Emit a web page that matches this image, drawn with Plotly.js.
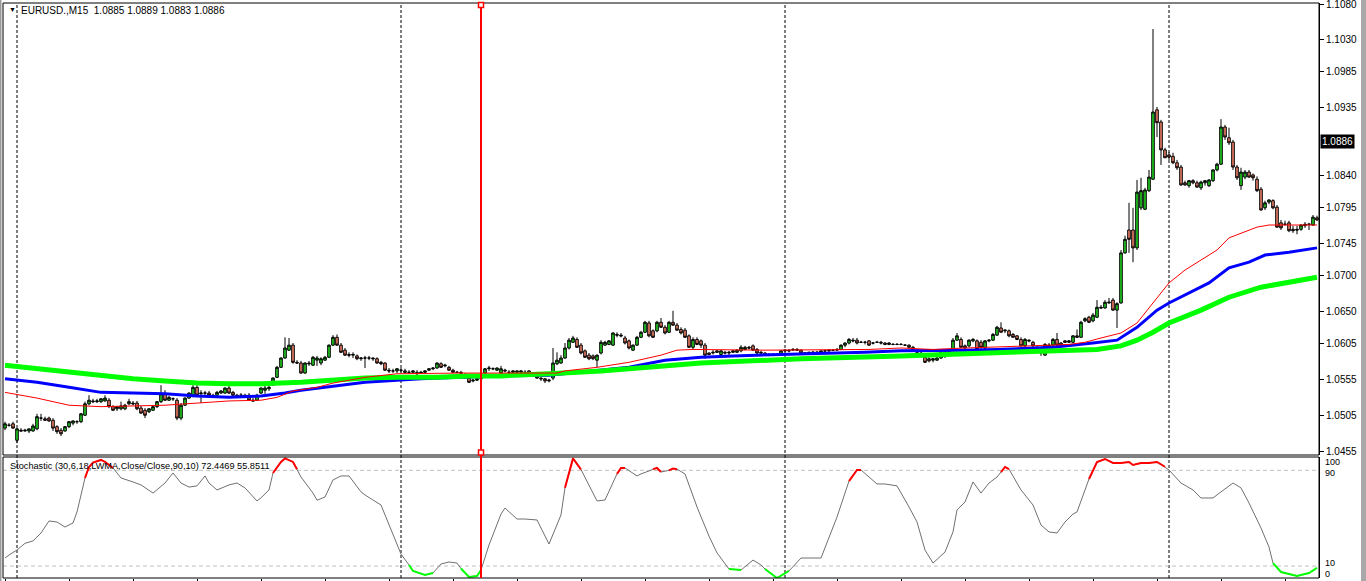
<!DOCTYPE html>
<html><head><meta charset="utf-8">
<script src="https://cdn.plot.ly/plotly-3.0.1.min.js"></script>
<style>html,body{margin:0;padding:0;background:#fff;overflow:hidden}#chart{width:1366px;height:581px}</style>
</head><body><div id="chart"></div>
<script>
// ---------- DATA (EURUSD., M15) ----------
const open = [
1.0487,1.0491,1.0493,1.0470,1.0484,1.0483,1.0483,1.0483,1.0486,1.0501,
1.0500,1.0501,1.0498,1.0489,1.0484,1.0483,1.0489,1.0494,1.0496,1.0496,
1.0505,1.0521,1.0525,1.0524,1.0524,1.0525,1.0526,1.0517,1.0514,1.0514,
1.0514,1.0521,1.0522,1.0522,1.0515,1.0512,1.0510,1.0512,1.0517,1.0524,
1.0535,1.0526,1.0528,1.0526,1.0501,1.0519,1.0529,1.0532,1.0544,1.0535,
1.0536,1.0536,1.0533,1.0533,1.0536,1.0536,1.0543,1.0537,1.0533,1.0533,
1.0533,1.0533,1.0526,1.0526,1.0536,1.0540,1.0542,1.0547,1.0558,1.0572,
1.0585,1.0596,1.0603,1.0579,1.0578,1.0564,1.0578,1.0575,1.0582,1.0578,
1.0582,1.0586,1.0603,1.0614,1.0603,1.0596,1.0590,1.0589,1.0588,1.0584,
1.0585,1.0585,1.0585,1.0584,1.0579,1.0578,1.0568,1.0567,1.0567,1.0568,
1.0567,1.0565,1.0565,1.0565,1.0564,1.0565,1.0568,1.0570,1.0571,1.0577,
1.0574,1.0572,1.0568,1.0565,1.0565,1.0561,1.0557,1.0553,1.0554,1.0556,
1.0564,1.0570,1.0570,1.0568,1.0564,1.0568,1.0565,1.0565,1.0567,1.0565,
1.0565,1.0567,1.0564,1.0560,1.0557,1.0556,1.0553,1.0557,1.0577,1.0578,
1.0585,1.0599,1.0607,1.0611,1.0603,1.0595,1.0589,1.0588,1.0582,1.0592,
1.0603,1.0604,1.0603,1.0618,1.0617,1.0613,1.0609,1.0596,1.0603,1.0614,
1.0621,1.0634,1.0623,1.0623,1.0635,1.0628,1.0621,1.0635,1.0631,1.0625,
1.0624,1.0616,1.0600,1.0611,1.0609,1.0603,1.0592,1.0592,1.0595,1.0590,
1.0593,1.0592,1.0593,1.0593,1.0595,1.0597,1.0600,1.0602,1.0597,1.0593,
1.0592,1.0590,1.0590,1.0589,1.0590,1.0595,1.0596,1.0596,1.0597,1.0596,
1.0592,1.0592,1.0593,1.0593,1.0593,1.0595,1.0595,1.0596,1.0596,1.0597,
1.0603,1.0606,1.0610,1.0610,1.0607,1.0607,1.0609,1.0606,1.0607,1.0607,
1.0606,1.0604,1.0604,1.0604,1.0604,1.0603,1.0603,1.0600,1.0596,1.0592,
1.0586,1.0584,1.0582,1.0582,1.0585,1.0593,1.0593,1.0596,1.0610,1.0611,
1.0602,1.0602,1.0609,1.0609,1.0607,1.0599,1.0609,1.0610,1.0617,1.0627,
1.0623,1.0623,1.0618,1.0616,1.0611,1.0602,1.0610,1.0607,1.0600,1.0596,
1.0589,1.0603,1.0603,1.0611,1.0606,1.0609,1.0607,1.0607,1.0616,1.0614,
1.0637,1.0642,1.0637,1.0642,1.0656,1.0655,1.0662,1.0666,1.0652,1.0662,
1.0732,1.0764,1.0764,1.0739,1.0795,1.0793,1.0819,1.0835,1.0932,1.0915,
1.0876,1.0869,1.0867,1.0858,1.0852,1.0830,1.0826,1.0833,1.0830,1.0823,
1.0830,1.0826,1.0833,1.0848,1.0856,1.0908,1.0893,1.0887,1.0852,1.0826,
1.0838,1.0845,1.0841,1.0835,1.0821,1.0795,1.0803,1.0805,1.0796,1.0774,
1.0772,1.0774,1.0765,1.0765,1.0765,1.0770,1.0772,1.0771,1.0781];
const high = [
1.0496,1.0494,1.0496,1.0487,1.0487,1.0486,1.0486,1.0493,1.0507,1.0507,
1.0503,1.0503,1.0501,1.0491,1.0487,1.0490,1.0497,1.0498,1.0498,1.0508,
1.0524,1.0533,1.0528,1.0528,1.0529,1.0533,1.0529,1.0519,1.0518,1.0524,
1.0521,1.0528,1.0525,1.0525,1.0518,1.0515,1.0515,1.0518,1.0525,1.0547,
1.0540,1.0532,1.0530,1.0529,1.0522,1.0530,1.0537,1.0547,1.0547,1.0540,
1.0539,1.0539,1.0535,1.0539,1.0540,1.0544,1.0546,1.0539,1.0535,1.0536,
1.0535,1.0536,1.0529,1.0535,1.0544,1.0550,1.0546,1.0558,1.0574,1.0586,
1.0614,1.0613,1.0606,1.0582,1.0581,1.0579,1.0581,1.0588,1.0588,1.0586,
1.0588,1.0604,1.0617,1.0618,1.0606,1.0599,1.0593,1.0593,1.0590,1.0586,
1.0588,1.0588,1.0586,1.0586,1.0581,1.0579,1.0571,1.0570,1.0571,1.0571,
1.0570,1.0568,1.0568,1.0568,1.0567,1.0568,1.0571,1.0572,1.0579,1.0579,
1.0577,1.0574,1.0570,1.0567,1.0567,1.0564,1.0560,1.0556,1.0557,1.0563,
1.0571,1.0574,1.0572,1.0572,1.0574,1.0570,1.0568,1.0568,1.0568,1.0568,
1.0568,1.0568,1.0565,1.0563,1.0558,1.0557,1.0556,1.0599,1.0593,1.0589,
1.0606,1.0613,1.0616,1.0614,1.0606,1.0597,1.0592,1.0590,1.0590,1.0610,
1.0609,1.0610,1.0621,1.0621,1.0620,1.0616,1.0611,1.0604,1.0616,1.0623,
1.0637,1.0637,1.0625,1.0637,1.0641,1.0631,1.0637,1.0651,1.0634,1.0628,
1.0627,1.0618,1.0614,1.0614,1.0611,1.0606,1.0593,1.0596,1.0596,1.0596,
1.0595,1.0595,1.0596,1.0597,1.0603,1.0602,1.0602,1.0604,1.0599,1.0595,
1.0593,1.0592,1.0592,1.0592,1.0596,1.0597,1.0597,1.0599,1.0599,1.0597,
1.0593,1.0593,1.0595,1.0595,1.0595,1.0596,1.0597,1.0597,1.0599,1.0604,
1.0607,1.0613,1.0613,1.0613,1.0609,1.0609,1.0610,1.0607,1.0609,1.0609,
1.0607,1.0607,1.0606,1.0606,1.0606,1.0604,1.0604,1.0602,1.0597,1.0593,
1.0589,1.0586,1.0585,1.0586,1.0595,1.0596,1.0596,1.0613,1.0620,1.0614,
1.0604,1.0611,1.0613,1.0611,1.0610,1.0610,1.0611,1.0620,1.0630,1.0635,
1.0625,1.0625,1.0620,1.0617,1.0614,1.0613,1.0611,1.0609,1.0602,1.0597,
1.0606,1.0606,1.0613,1.0620,1.0607,1.0610,1.0610,1.0617,1.0625,1.0637,
1.0642,1.0644,1.0648,1.0666,1.0659,1.0666,1.0669,1.0669,1.0663,1.0736,
1.0756,1.0802,1.0795,1.0834,1.0837,1.0823,1.0848,1.1045,1.0936,1.0918,
1.0879,1.0873,1.0872,1.0862,1.0855,1.0833,1.0834,1.0835,1.0833,1.0833,
1.0834,1.0835,1.0849,1.0858,1.0919,1.0911,1.0907,1.0890,1.0855,1.0851,
1.0848,1.0848,1.0843,1.0839,1.0824,1.0805,1.0807,1.0807,1.0799,1.0778,
1.0777,1.0777,1.0770,1.0770,1.0772,1.0775,1.0774,1.0785,1.0784];
const low = [
1.0484,1.0489,1.0486,1.0466,1.0482,1.0482,1.0480,1.0482,1.0484,1.0497,
1.0497,1.0496,1.0483,1.0479,1.0476,1.0482,1.0487,1.0491,1.0493,1.0494,
1.0504,1.0519,1.0522,1.0522,1.0522,1.0524,1.0515,1.0511,1.0511,1.0512,
1.0512,1.0519,1.0519,1.0512,1.0507,1.0501,1.0508,1.0511,1.0515,1.0522,
1.0525,1.0525,1.0525,1.0498,1.0498,1.0518,1.0528,1.0530,1.0532,1.0522,
1.0533,1.0532,1.0530,1.0532,1.0535,1.0535,1.0535,1.0532,1.0529,1.0530,
1.0529,1.0525,1.0524,1.0525,1.0535,1.0535,1.0539,1.0546,1.0557,1.0571,
1.0584,1.0595,1.0577,1.0577,1.0563,1.0563,1.0574,1.0574,1.0574,1.0575,
1.0581,1.0585,1.0602,1.0602,1.0592,1.0588,1.0586,1.0585,1.0582,1.0581,
1.0571,1.0582,1.0581,1.0577,1.0575,1.0567,1.0564,1.0564,1.0564,1.0565,
1.0564,1.0563,1.0564,1.0561,1.0563,1.0564,1.0567,1.0568,1.0570,1.0571,
1.0572,1.0567,1.0564,1.0564,1.0563,1.0556,1.0550,1.0551,1.0553,1.0554,
1.0563,1.0567,1.0568,1.0567,1.0563,1.0565,1.0564,1.0564,1.0564,1.0564,
1.0563,1.0563,1.0560,1.0556,1.0553,1.0550,1.0551,1.0554,1.0575,1.0577,
1.0584,1.0597,1.0606,1.0599,1.0590,1.0585,1.0582,1.0582,1.0572,1.0590,
1.0602,1.0603,1.0602,1.0614,1.0614,1.0604,1.0597,1.0595,1.0602,1.0613,
1.0620,1.0614,1.0613,1.0621,1.0627,1.0618,1.0620,1.0630,1.0623,1.0618,
1.0613,1.0599,1.0597,1.0603,1.0599,1.0584,1.0589,1.0590,1.0592,1.0589,
1.0590,1.0589,1.0592,1.0592,1.0593,1.0596,1.0597,1.0595,1.0590,1.0590,
1.0589,1.0589,1.0588,1.0588,1.0589,1.0593,1.0593,1.0595,1.0595,1.0590,
1.0590,1.0590,1.0590,1.0592,1.0592,1.0593,1.0593,1.0595,1.0595,1.0596,
1.0600,1.0604,1.0607,1.0604,1.0606,1.0604,1.0602,1.0604,1.0606,1.0604,
1.0603,1.0603,1.0603,1.0603,1.0603,1.0602,1.0600,1.0595,1.0592,1.0586,
1.0578,1.0579,1.0579,1.0581,1.0584,1.0585,1.0592,1.0595,1.0609,1.0600,
1.0597,1.0600,1.0607,1.0596,1.0597,1.0597,1.0607,1.0609,1.0616,1.0621,
1.0620,1.0614,1.0614,1.0610,1.0602,1.0600,1.0607,1.0600,1.0593,1.0588,
1.0588,1.0599,1.0602,1.0602,1.0602,1.0606,1.0606,1.0606,1.0613,1.0613,
1.0635,1.0634,1.0635,1.0641,1.0654,1.0654,1.0661,1.0651,1.0627,1.0661,
1.0731,1.0732,1.0719,1.0736,1.0792,1.0792,1.0817,1.0834,1.0894,1.0855,
1.0865,1.0862,1.0856,1.0848,1.0826,1.0826,1.0823,1.0828,1.0823,1.0820,
1.0826,1.0824,1.0831,1.0846,1.0855,1.0890,1.0883,1.0848,1.0834,1.0820,
1.0835,1.0837,1.0833,1.0817,1.0791,1.0792,1.0800,1.0793,1.0767,1.0764,
1.0770,1.0761,1.0760,1.0758,1.0763,1.0767,1.0764,1.0770,1.0777];
const close = [
1.0493,1.0491,1.0487,1.0486,1.0483,1.0484,1.0486,1.0490,1.0503,1.0501,
1.0498,1.0497,1.0487,1.0482,1.0479,1.0489,1.0496,1.0497,1.0496,1.0507,
1.0521,1.0526,1.0524,1.0525,1.0528,1.0529,1.0517,1.0512,1.0517,1.0518,
1.0519,1.0524,1.0521,1.0514,1.0508,1.0505,1.0514,1.0517,1.0524,1.0535,
1.0526,1.0530,1.0528,1.0501,1.0519,1.0529,1.0536,1.0544,1.0533,1.0536,
1.0536,1.0533,1.0532,1.0537,1.0539,1.0543,1.0536,1.0533,1.0530,1.0533,
1.0530,1.0526,1.0525,1.0533,1.0543,1.0543,1.0544,1.0557,1.0572,1.0585,
1.0599,1.0603,1.0579,1.0578,1.0564,1.0578,1.0577,1.0586,1.0585,1.0584,
1.0586,1.0603,1.0614,1.0603,1.0593,1.0589,1.0589,1.0590,1.0584,1.0585,
1.0585,1.0585,1.0584,1.0578,1.0577,1.0568,1.0567,1.0567,1.0570,1.0568,
1.0565,1.0565,1.0567,1.0563,1.0565,1.0567,1.0570,1.0571,1.0578,1.0572,
1.0575,1.0568,1.0565,1.0565,1.0564,1.0557,1.0551,1.0554,1.0556,1.0560,
1.0570,1.0571,1.0570,1.0571,1.0570,1.0567,1.0565,1.0567,1.0565,1.0567,
1.0565,1.0564,1.0561,1.0557,1.0556,1.0553,1.0554,1.0578,1.0582,1.0585,
1.0599,1.0610,1.0613,1.0600,1.0592,1.0586,1.0584,1.0584,1.0589,1.0607,
1.0607,1.0609,1.0620,1.0617,1.0616,1.0606,1.0599,1.0603,1.0614,1.0621,
1.0635,1.0616,1.0614,1.0635,1.0628,1.0620,1.0635,1.0631,1.0624,1.0620,
1.0614,1.0600,1.0611,1.0604,1.0603,1.0589,1.0590,1.0593,1.0593,1.0595,
1.0592,1.0593,1.0595,1.0596,1.0600,1.0600,1.0599,1.0596,1.0592,1.0592,
1.0590,1.0590,1.0589,1.0590,1.0595,1.0596,1.0595,1.0597,1.0596,1.0592,
1.0592,1.0593,1.0593,1.0593,1.0595,1.0595,1.0596,1.0596,1.0597,1.0603,
1.0606,1.0611,1.0609,1.0606,1.0607,1.0607,1.0603,1.0606,1.0607,1.0606,
1.0604,1.0606,1.0604,1.0604,1.0604,1.0603,1.0600,1.0595,1.0593,1.0588,
1.0579,1.0581,1.0584,1.0585,1.0593,1.0592,1.0595,1.0610,1.0616,1.0600,
1.0599,1.0610,1.0611,1.0597,1.0600,1.0609,1.0610,1.0618,1.0628,1.0621,
1.0624,1.0616,1.0614,1.0611,1.0602,1.0611,1.0609,1.0602,1.0596,1.0592,
1.0604,1.0602,1.0611,1.0603,1.0603,1.0607,1.0609,1.0616,1.0614,1.0635,
1.0640,1.0635,1.0645,1.0656,1.0655,1.0663,1.0663,1.0652,1.0661,1.0732,
1.0751,1.0751,1.0739,1.0817,1.0819,1.0820,1.0838,1.0929,1.0914,1.0876,
1.0865,1.0866,1.0858,1.0851,1.0827,1.0827,1.0833,1.0830,1.0824,1.0831,
1.0833,1.0834,1.0848,1.0856,1.0908,1.0894,1.0886,1.0852,1.0837,1.0845,
1.0845,1.0838,1.0837,1.0819,1.0792,1.0802,1.0806,1.0795,1.0768,1.0767,
1.0772,1.0763,1.0763,1.0764,1.0771,1.0772,1.0772,1.0782,1.0778];

// moving averages (bar index, price)
const redMaBars = [0,8,16,24,32,40,48,56,64,68,72,78,82,90,98,106,114,124,138,140,148,156,164,168,172,190,206,216,224,232,240,248,256,266,270,274,279,283,286,289,291,295,299,303,306,310,313,316,328];
const redMaVals = [1.0537,1.0529,1.0519,1.0517,1.0518,1.0519,1.0522,1.0525,1.0526,1.0530,1.0539,1.0544,1.0550,1.0558,1.0563,1.0564,1.0564,1.0564,1.0564,1.0567,1.0572,1.0579,1.0589,1.0596,1.0597,1.0596,1.0596,1.0597,1.0599,1.0597,1.0599,1.0600,1.0602,1.0604,1.0607,1.0613,1.0620,1.0634,1.0655,1.0676,1.0690,1.0708,1.0722,1.0736,1.0753,1.0761,1.0768,1.0771,1.0771];
const blueMaBars = [0,8,16,24,32,40,48,56,64,70,74,82,90,98,104,114,124,136,144,156,165,174,182,190,198,206,215,224,232,240,248,262,272,278,283,288,291,296,301,306,311,315,321,328];
const blueMaVals = [1.0556,1.0551,1.0544,1.0537,1.0536,1.0535,1.0532,1.0530,1.0532,1.0536,1.0540,1.0546,1.0551,1.0554,1.0556,1.0558,1.0560,1.0561,1.0565,1.0572,1.0582,1.0586,1.0588,1.0589,1.0590,1.0592,1.0593,1.0595,1.0595,1.0596,1.0597,1.0600,1.0606,1.0610,1.0628,1.0652,1.0662,1.0676,1.0690,1.0711,1.0719,1.0729,1.0733,1.0739];
const greenMaBars = [0,8,16,24,32,40,48,56,64,74,82,90,98,108,116,124,136,149,174,199,224,249,263,273,279,283,287,291,299,306,314,321,328];
const greenMaVals = [1.0575,1.0570,1.0565,1.0561,1.0556,1.0553,1.0550,1.0549,1.0549,1.0551,1.0554,1.0557,1.0558,1.0558,1.0560,1.0560,1.0563,1.0567,1.0578,1.0584,1.0588,1.0592,1.0595,1.0597,1.0602,1.0610,1.0621,1.0634,1.0652,1.0670,1.0684,1.0691,1.0698];

// stochastic (bar index, value)
const stochBars = [0,1,3,5,7,9,11,13,15,17,18,20,21,22,24,25,27,29,32,34,37,40,42,44,46,48,50,51,53,56,58,60,63,64,66,67,69,70,72,73,74,77,78,80,82,84,86,89,90,94,96,99,101,102,105,107,109,111,113,114,116,118,119,121,124,125,128,130,133,136,139,140,142,144,148,150,153,154,155,158,159,162,163,164,166,167,168,170,173,176,178,181,184,187,189,190,193,196,199,204,208,211,213,214,218,220,223,226,228,230,232,235,237,238,240,242,244,246,248,249,250,251,254,257,259,261,263,265,267,268,271,273,275,277,279,281,282,284,286,288,290,291,294,297,299,302,304,307,309,311,314,316,317,319,323,326,328];
const stochVals = [16.7,19.2,23.4,29,31,37.6,47.7,46.8,42.6,46,55.2,83.6,92.8,96.5,98.7,97,92,83.6,80.3,77.8,71,79.4,87.8,79.4,76,77,85.3,79.4,73.6,77.8,79.4,75.3,64.4,67,73.6,87.8,97,100,97,91,84.4,71,65,67.7,82,85.3,85.3,72,69.4,61,44,20,10.9,5.9,2.5,4.2,11.7,13.4,12.5,7.9,0.8,1.7,6.7,27.6,53.5,58.5,49.3,49.3,48.5,28.4,52.7,75.5,100,90.7,64.4,65.2,87,92,92,85.3,87,91,92,88.6,90,91.5,91,87,59.4,35,21,7.5,6.7,15,10.9,7.5,0,5.9,16.7,16.7,51,81,90.3,90.3,78.6,78.6,77,59.4,46.8,23.4,12.5,21.7,38.5,56.9,63.5,80.3,71,79.4,84.4,88.6,92.8,91,73.6,61,44.3,38.5,37.6,46.8,53.5,55.2,82.8,97,99.5,96.2,96.2,97,94.5,96.2,96.2,97,93,90.3,79.4,73.6,66.9,66.9,72,79.4,75.3,62.7,41.8,25.9,12.5,5,1.7,4.2,8.4];
// bar ranges where the indicator line is highlighted
const redSegments = [[20,27],[67,73],[140,144],[153,155],[162,164],[166,168],[211,214],[249,251],[271,290]];
const greenSegments = [[101,107],[114,119],[181,184],[190,196],[317,328]];

const priceTickVals = [1.1080,1.1030,1.0985,1.0935,1.0840,1.0795,1.0745,1.0700,1.0650,1.0605,1.0555,1.0505,1.0455];
const priceTickText = ['1.1080','1.1030','1.0985','1.0935','1.0840','1.0795','1.0745','1.0700','1.0650','1.0605','1.0555','1.0505','1.0455'];
const currentPrice = '1.0886';
const titleText = 'EURUSD.,M15\u00a0\u00a01.0885 1.0889 1.0883 1.0886';
const stochText = 'Stochastic (30,6,18,LWMA,Close/Close,90,10) 72.4469 55.8511';
const separatorBars = [3,99,195,291];
const selectedLineBar = 119;
const stochLevels = [10,90];

// ---------- LAYOUT GEOMETRY ----------
const W=1366,H=581,ML=3,MR=47,MT=3,MB=3;
const PW=W-ML-MR, PH=H-MT-MB;
const pxX = px => (px-ML)/PW;
const pxY = py => (H-MB-py)/PH;
const mainDom=[pxY(455),1], stochDom=[0,pxY(457)];
const FONT="Tahoma, 'Liberation Sans', Arial, sans-serif";

const bars = open.map((_, i) => i);

function segTrace(segs){
  const xs=[], ys=[];
  segs.forEach(([a,b],k)=>{
    if(k){xs.push(null);ys.push(null);}
    stochBars.forEach((bi,j)=>{ if(bi>=a&&bi<=b){xs.push(bi);ys.push(stochVals[j]);} });
  });
  return {xs,ys};
}
const redSeg = segTrace(redSegments), greenSeg = segTrace(greenSegments);

const traces = [
  {type:'candlestick', x:bars, open, high, low, close, xaxis:'x', yaxis:'y',
   increasing:{line:{color:'#000',width:1}, fillcolor:'#22d022'},
   decreasing:{line:{color:'#000',width:1}, fillcolor:'#ee7f68'},
   whiskerwidth:0, hoverinfo:'skip', showlegend:false},
  {type:'scatter', mode:'lines', x:blueMaBars, y:blueMaVals, yaxis:'y', line:{color:'#0000ff',width:3}, hoverinfo:'skip', showlegend:false},
  {type:'scatter', mode:'lines', x:greenMaBars, y:greenMaVals, yaxis:'y', line:{color:'#00ff00',width:5}, hoverinfo:'skip', showlegend:false},
  {type:'scatter', mode:'lines', x:redMaBars, y:redMaVals, yaxis:'y', line:{color:'#ff0000',width:1}, hoverinfo:'skip', showlegend:false},
  {type:'scatter', mode:'lines', x:stochBars, y:stochVals, yaxis:'y2', line:{color:'#707070',width:1}, hoverinfo:'skip', showlegend:false},
  {type:'scatter', mode:'lines', x:redSeg.xs, y:redSeg.ys, yaxis:'y2', line:{color:'#ff0000',width:2}, connectgaps:false, hoverinfo:'skip', showlegend:false},
  {type:'scatter', mode:'lines', x:greenSeg.xs, y:greenSeg.ys, yaxis:'y2', line:{color:'#00ff00',width:2}, connectgaps:false, hoverinfo:'skip', showlegend:false}
];

const shapes = [];
separatorBars.forEach(b=>shapes.push({type:'line', xref:'x', yref:'paper', x0:b, x1:b, y0:0, y1:1, layer:'below', line:{color:'#000',width:1,dash:'3px,2px'}}));
stochLevels.forEach(v=>shapes.push({type:'line', xref:'paper', yref:'y2', x0:0, x1:1, y0:v, y1:v, layer:'below', line:{color:'#c0c0c0',width:1,dash:'4px,3px'}}));
// panel frames
shapes.push({type:'rect', xref:'paper', yref:'paper', x0:0, x1:1, y0:mainDom[0], y1:1, line:{color:'#000',width:1}, fillcolor:'rgba(0,0,0,0)'});
shapes.push({type:'rect', xref:'paper', yref:'paper', x0:0, x1:1, y0:0, y1:stochDom[1], line:{color:'#000',width:1}, fillcolor:'rgba(0,0,0,0)'});
// selected vertical line object
shapes.push({type:'line', xref:'x', yref:'paper', x0:selectedLineBar, x1:selectedLineBar, y0:0, y1:1, line:{color:'#ff0000',width:2}});
[pxY(5), pxY(452.5)].forEach(yy=>shapes.push({type:'rect', xref:'x', yref:'paper', xsizemode:'pixel', ysizemode:'pixel', xanchor:selectedLineBar, yanchor:yy, x0:-2.5, x1:2.5, y0:-2.5, y1:2.5, line:{color:'#ff0000',width:1.5}, fillcolor:'#ffffff'}));
// window edges
shapes.push({type:'rect', xref:'paper', yref:'paper', x0:pxX(1361), x1:pxX(1367), y0:pxY(582), y1:pxY(-1), line:{width:0}, fillcolor:'#a8a8a8'});
shapes.push({type:'rect', xref:'paper', yref:'paper', x0:pxX(-1), x1:pxX(1.5), y0:pxY(582), y1:pxY(-1), line:{width:0}, fillcolor:'#9a9a9a'});

const ann = (text,x,y,opts={}) => Object.assign({text, xref:'paper', yref:'paper', x:pxX(x), y:pxY(y), xanchor:'left', yanchor:'middle', showarrow:false, font:{family:FONT,size:10,color:'#000'}}, opts);
const small = {font:{family:FONT,size:9,color:'#000'}, borderpad:0};
const annotations = [
  ann('\u25BC', 6.5, 10, {font:{family:FONT,size:7,color:'#000'}}),
  ann(titleText, 19, 11),
  ann(stochText, 8, 466, {font:{family:FONT,size:9.2,color:'#000'}}),
  ann(currentPrice, 1320, 141.5, {bgcolor:'#000', font:{family:FONT,size:10,color:'#fff'}, borderpad:1}),
  ann('100', 1324, 461.5, small),
  ann('90', 1324, 472.5, small),
  ann('10', 1324, 563, small),
  ann('0', 1324, 574, small)
];

const layout = {
  width:W, height:H, margin:{l:ML,r:MR,t:MT,b:MB,pad:0},
  paper_bgcolor:'#fff', plot_bgcolor:'#fff', showlegend:false,
  boxgap:0.35, boxgroupgap:0,
  font:{family:FONT,size:10,color:'#000'},
  xaxis:{domain:[0,1], range:[-0.5,328.5], anchor:'y2', rangeslider:{visible:false},
         showgrid:false, zeroline:false, showline:false, ticks:'outside', ticklen:3, tickcolor:'#000',
         tickmode:'array', tickvals:[0,16,32,48,64,80,96,112,128,144,160,176,192,208,224,240,256,272,288,304,320],
         showticklabels:false, fixedrange:true},
  yaxis:{domain:mainDom, range:[1.044941,1.10814], side:'right', anchor:'x',
         showgrid:false, zeroline:false, showline:true, linecolor:'#000', linewidth:1,
         ticks:'outside', ticklen:4, tickcolor:'#000', tickmode:'array', tickvals:priceTickVals, ticktext:priceTickText,
         ticklabeloverflow:'allow', tickfont:{family:FONT,size:10,color:'#000'}, fixedrange:true},
  yaxis2:{domain:stochDom, range:[0,101.15], side:'right', anchor:'x',
          showgrid:false, zeroline:false, showline:true, linecolor:'#000', linewidth:1,
          showticklabels:false, ticks:'', fixedrange:true},
  shapes, annotations
};

Plotly.newPlot('chart', traces, layout, {displayModeBar:false, staticPlot:true});
</script></body></html>
